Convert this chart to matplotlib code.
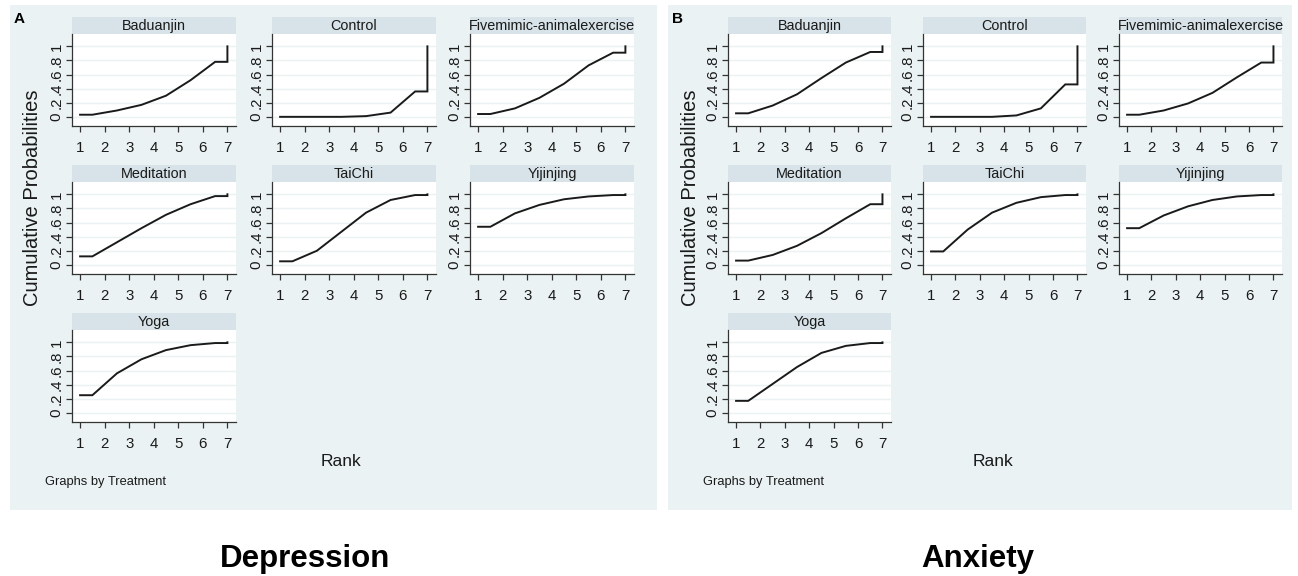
import matplotlib.pyplot as plt
import numpy as np

# Cumulative ranking probabilities (SUCRA) per treatment, ranks 1..7
treatments = ["Baduanjin", "Control", "Fivemimic-animalexercise", "Meditation",
              "TaiChi", "Yijinjing", "Yoga"]
ranks = [1, 2, 3, 4, 5, 6, 7]

depression_cum = {
    "Baduanjin": [0.03, 0.09, 0.17, 0.30, 0.52, 0.78, 1.00],
    "Control": [0.00, 0.00, 0.00, 0.01, 0.06, 0.36, 1.00],
    "Fivemimic-animalexercise": [0.04, 0.12, 0.27, 0.47, 0.73, 0.91, 1.00],
    "Meditation": [0.12, 0.32, 0.52, 0.71, 0.86, 0.975, 1.00],
    "TaiChi": [0.05, 0.20, 0.47, 0.74, 0.92, 0.99, 1.00],
    "Yijinjing": [0.54, 0.73, 0.85, 0.93, 0.97, 0.99, 1.00],
    "Yoga": [0.25, 0.56, 0.76, 0.89, 0.96, 0.99, 1.00],
}
anxiety_cum = {
    "Baduanjin": [0.05, 0.16, 0.32, 0.55, 0.77, 0.92, 1.00],
    "Control": [0.00, 0.00, 0.00, 0.02, 0.12, 0.46, 1.00],
    "Fivemimic-animalexercise": [0.03, 0.09, 0.19, 0.34, 0.56, 0.77, 1.00],
    "Meditation": [0.06, 0.14, 0.27, 0.45, 0.66, 0.86, 1.00],
    "TaiChi": [0.19, 0.50, 0.74, 0.88, 0.96, 0.99, 1.00],
    "Yijinjing": [0.52, 0.70, 0.83, 0.92, 0.97, 0.99, 1.00],
    "Yoga": [0.17, 0.41, 0.65, 0.85, 0.95, 0.99, 1.00],
}
y_ticks = [0, 0.2, 0.4, 0.6, 0.8, 1]
y_ticklabels = ["0", ".2", ".4", ".6", ".8", "1"]

W, H = 1298, 576
BG = "#eaf2f3"
HEADER = "#d7e3e8"
INK = "#1a1a1a"
plt.rcParams["font.family"] = ["Liberation Sans", "DejaVu Sans"]

fig = plt.figure(figsize=(W / 100, H / 100), dpi=100)
fig.patch.set_facecolor("white")


def px_box(x0, y0, x1, y1):
    return [x0 / W, 1 - y1 / H, (x1 - x0) / W, (y1 - y0) / H]


def stata_curve(cum):
    # flat 1..1.5, then midpoints, flat 6.5..7, jump at 7
    mids = [r + 0.5 for r in ranks[1:-1]]
    xs = [ranks[0], ranks[0] + 0.5] + mids + [ranks[-1], ranks[-1]]
    ys = [cum[0], cum[0]] + list(cum[1:-1]) + [cum[-2], cum[-1]]
    return xs, ys


def draw_panel(data, left, right, cols, col_w, letter, title, title_x, rank_x):
    # panel background as a bare axes behind everything
    bax = fig.add_axes(px_box(left, 5, right, 510), zorder=-5)
    bax.set_facecolor(BG)
    bax.set_xticks([])
    bax.set_yticks([])
    for s in bax.spines.values():
        s.set_visible(False)

    fig.text((left + 4) / W, 1 - 19 / H, letter, fontsize=11, fontweight="bold",
             va="center", ha="left")

    header_tops = [17, 165, 313]
    for i, name in enumerate(treatments):
        r, c = divmod(i, 3)
        x0 = cols[c]
        x1 = x0 + col_w
        ht = header_tops[r]
        hax = fig.add_axes(px_box(x0, ht, x1, ht + 17))
        hax.set_facecolor(HEADER)
        hax.set_xticks([])
        hax.set_yticks([])
        for s in hax.spines.values():
            s.set_visible(False)
        hax.text(0.5, 0.45, name, transform=hax.transAxes, ha="center",
                 va="center", fontsize=10.4, color=INK)

        ax = fig.add_axes(px_box(x0, ht + 17, x1, ht + 109))
        ax.set_facecolor("white")
        xs, ys = stata_curve(data[name])
        ax.plot(xs, ys, color=INK, lw=1.4, solid_joinstyle="miter")
        ax.set_xlim(0.67, 7.35)
        ax.set_ylim(-0.13, 1.175)
        ax.set_xticks(ranks)
        ax.set_yticks(y_ticks)
        ax.set_yticklabels(y_ticklabels, rotation=90, va="center")
        for yv in y_ticks:
            ax.axhline(yv, color=BG, lw=1, zorder=0)
        for side in ["top", "right"]:
            ax.spines[side].set_visible(False)
        for side in ["left", "bottom"]:
            ax.spines[side].set_color("#333333")
            ax.spines[side].set_linewidth(0.9)
        ax.tick_params(axis="x", length=4, width=0.9, color="#333333", pad=7,
                       labelsize=10.8, labelcolor=INK)
        ax.tick_params(axis="y", length=4, width=0.9, color="#333333", pad=2,
                       labelsize=10.8, labelcolor=INK)

    fig.text((left + 23) / W, 1 - 198 / H, "Cumulative Probabilities",
             rotation=90, ha="center", va="center", fontsize=14.5, color=INK)
    fig.text(rank_x / W, 1 - 462 / H, "Rank", ha="center",
             va="center", fontsize=12.5, color=INK)
    fig.text((left + 35) / W, 1 - 482 / H, "Graphs by Treatment", ha="left",
             va="center", fontsize=9.3, color=INK)
    fig.text(title_x / W, 1 - 567 / H, title, ha="center", va="baseline",
             fontsize=22.5, fontweight="bold", color="black")


draw_panel(depression_cum, 10, 657, [72, 272, 470], 164, "A", "Depression", 305, 341)
draw_panel(anxiety_cum, 668, 1292, [728, 923, 1119], 163, "B", "Anxiety", 978, 993)

fig.savefig("out.png", dpi=100, facecolor=fig.get_facecolor())
